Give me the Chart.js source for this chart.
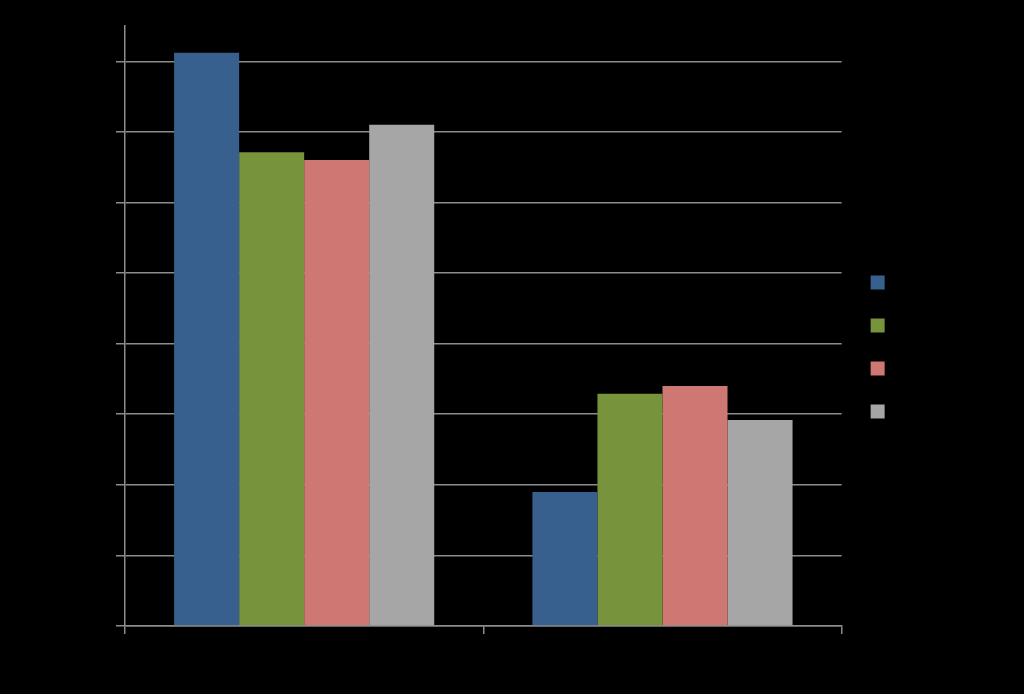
<!DOCTYPE html>
<html>
<head>
<meta charset="utf-8">
<script src="https://cdn.jsdelivr.net/npm/chart.js@4"></script>
<style>
html,body{margin:0;padding:0;background:#000;}
#wrap{width:1024px;height:694px;}
</style>
</head>
<body>
<div id="wrap"><canvas id="c" width="1024" height="694"></canvas></div>
<script>
const categories = ["Category 1", "Category 2"];
const seriesNames = ["Series 1", "Series 2", "Series 3", "Series 4"];
const series1 = [81.2, 19.0];
const series2 = [67.1, 32.9];
const series3 = [66.0, 34.0];
const series4 = [71.0, 29.2];
const yTicks = [0, 10, 20, 30, 40, 50, 60, 70, 80];

const colors = ["#38608f", "#77933c", "#cf7773", "#a6a6a6"];
const allSeries = [series1, series2, series3, series4];

new Chart(document.getElementById('c'), {
  type: 'bar',
  data: {
    labels: categories,
    datasets: allSeries.map((d, i) => ({
      label: seriesNames[i],
      data: d,
      backgroundColor: colors[i],
      borderWidth: 0,
      barPercentage: 1.0,
      categoryPercentage: 0.726
    }))
  },
  options: {
    responsive: false,
    animation: false,
    layout: { padding: { top: 26, right: 71, left: 0, bottom: 26 } },
    plugins: {
      legend: {
        position: 'right',
        labels: {
          color: '#000',
          boxWidth: 14,
          boxHeight: 14,
          padding: 29,
          font: { size: 14, family: 'Liberation Sans' }
        }
      },
      tooltip: { enabled: false }
    },
    scales: {
      x: {
        grid: {
          display: true,
          drawOnChartArea: false,
          drawTicks: true,
          tickLength: 8,
          color: '#8c8c8c',
          lineWidth: 1.5,
          offset: true
        },
        border: { display: true, color: '#8c8c8c', width: 1.5 },
        ticks: { color: '#000', font: { size: 14, family: 'Liberation Sans' } },
        afterFit: s => { s.height = 42; }
      },
      y: {
        min: 0,
        max: 85,
        afterBuildTicks: s => { s.ticks = yTicks.map(v => ({ value: v })); },
        grid: {
          color: '#8c8c8c',
          lineWidth: 1.5,
          tickLength: 9,
          drawTicks: true
        },
        border: { display: true, color: '#8c8c8c', width: 1.5 },
        ticks: { color: '#000', font: { size: 14, family: 'Liberation Sans' } },
        afterFit: s => { s.width = 125; }
      }
    }
  }
});
</script>
</body>
</html>
